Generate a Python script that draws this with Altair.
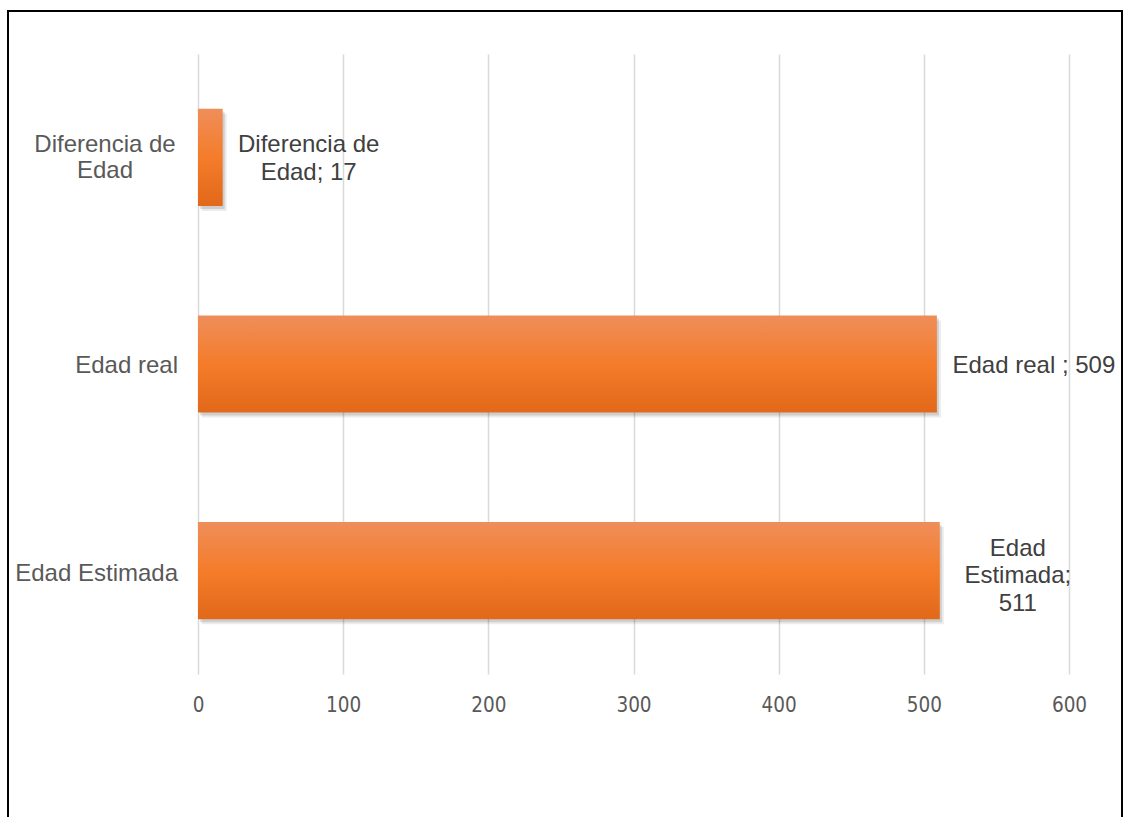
import altair as alt
import pandas as pd

# Chart data
categories = ["Diferencia de Edad", "Edad real", "Edad Estimada"]
values = [17, 509, 511]
category_lines = [["Diferencia de", "Edad"], ["Edad real"], ["Edad Estimada"]]
value_label_lines = [["Diferencia de", "Edad; 17"], ["Edad real ; 509"], ["Edad", "Estimada;", "511"]]
x_ticks = [0, 100, 200, 300, 400, 500, 600]

df = pd.DataFrame({
    "categoria": categories,
    "valor": values,
    "cat_lines": category_lines,
    "val_lines": value_label_lines,
})

W, H = 871, 620
FONT = "Liberation Sans"
BAND = alt.Scale(paddingInner=0.53, paddingOuter=0.265)

x_enc = alt.X(
    "valor:Q",
    scale=alt.Scale(domain=[0, 600], nice=False, zero=True),
    axis=alt.Axis(
        values=x_ticks, title=None, domain=False, ticks=False,
        grid=True, gridColor="#d9d9d9", gridWidth=1.5,
        labelColor="#595959", labelFontSize=20.5, labelPadding=21,
        labelFlush=False, labelOverlap=False,
        labelFont="Liberation Sans Narrow, DejaVu Sans Condensed, Liberation Sans",
    ),
)
y_enc = alt.Y("categoria:N", sort=categories, scale=BAND, axis=None)

base = alt.Chart(df)

gradient = alt.LinearGradient(
    gradient="linear", x1=0, x2=0, y1=0, y2=1,
    stops=[
        alt.GradientStop(offset=0, color="#EF8E5A"),
        alt.GradientStop(offset=0.5, color="#F47C2A"),
        alt.GradientStop(offset=1, color="#E2681A"),
    ],
)

# soft drop shadow under each bar
shadow1 = base.mark_bar(color="#000000", opacity=0.08, xOffset=4, yOffset=5).encode(x=x_enc, y=y_enc)
shadow2 = base.mark_bar(color="#000000", opacity=0.12, xOffset=2, yOffset=3).encode(x=x_enc, y=y_enc)
bars = base.mark_bar(color=gradient).encode(x=x_enc, y=y_enc)

layers = [shadow1, shadow2, bars]

# value labels to the right of each bar (first line sits on the anchor)
value_dx = [86, 97, 78]
value_dy = [-12, 2, -22]
for cat, dx, dy in zip(categories, value_dx, value_dy):
    layers.append(
        base.transform_filter(alt.datum.categoria == cat)
        .mark_text(align="center", baseline="middle", dx=dx, dy=dy, font=FONT,
                   fontSize=24, lineHeight=27.5, color="#404040")
        .encode(x="valor:Q", y=y_enc, text="val_lines")
    )

# category labels left of the plot
cat_x = [-93, -20, -20]
cat_dy = [-12, 2, 3]
cat_align = ["center", "right", "right"]
for cat, xv, dy, al in zip(categories, cat_x, cat_dy, cat_align):
    layers.append(
        base.transform_filter(alt.datum.categoria == cat)
        .mark_text(align=al, baseline="middle", font=FONT, fontSize=24,
                   lineHeight=26, color="#595959", dy=dy)
        .encode(x=alt.value(xv), y=y_enc, text="cat_lines")
    )

# outer frame
frame = alt.Chart(pd.DataFrame({"k": [0]})).mark_rect(
    filled=False, stroke="#000000", strokeWidth=2, clip=False
).encode(x=alt.value(-190), x2=alt.value(924), y=alt.value(-43), y2=alt.value(780))
layers.append(frame)

chart = alt.layer(*layers).properties(
    width=W, height=H,
    autosize=alt.AutoSizeParams(type="none"),
    padding={"left": 198, "top": 54, "right": 59, "bottom": 143},
    background="#ffffff",
).configure_view(stroke=None)

chart.save("out.html", embed_options={"renderer": "svg", "actions": False})
